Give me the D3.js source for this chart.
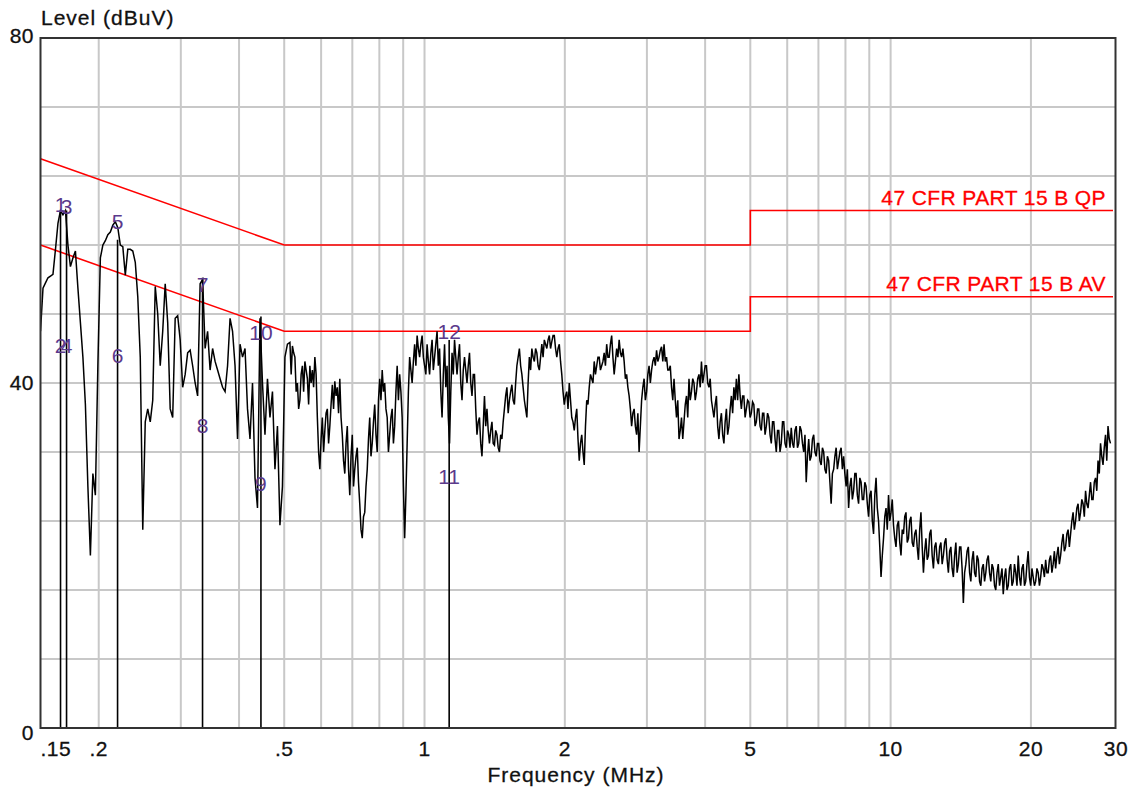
<!DOCTYPE html>
<html><head><meta charset="utf-8">
<script src="https://cdn.jsdelivr.net/npm/d3@7/dist/d3.min.js"></script>
<style>
body{margin:0;background:#fff}
svg{display:block}
text{font-family:"Liberation Sans",Arial,sans-serif}
</style>
</head><body>
<svg id="chart" width="1135" height="790"></svg>
<script>
// ---- Data ----
// Measured level (dBuV) of a log-spaced frequency sweep, 0.15 MHz .. 30 MHz, 430 steps
const SWEEP_START = 0.15, SWEEP_STOP = 30, SWEEP_STEPS = 430;
const levels = [
46,51,51.6,52.2,52.4,52.6,55.5,58.5,60.0,59.5,
60.0,56.0,53.5,54.5,55.3,51.0,47,43,37.5,28,
20,29.5,27,42,54.5,56.0,56.5,57.2,57.5,58.3,
58.7,58.0,56.0,55.8,52.5,55.5,55.5,55.3,54.0,50,
43,23,35.5,37,35.5,38,51.2,48,42,46,
51.5,47,37,36,47.5,47.8,45,39.5,41,43.5,
43.8,42,40,38.5,51.5,52,44,46,41.5,44,
42.5,41.5,40.5,39.5,39.0,42,47.5,46,42,33.5,
44.5,43,44,37,33.5,40,29,25.5,47.5,40,
34,40.5,36,39,30,35,23.5,28,43,44.5,
44.7,44.3,43,40,38,42,42.5,40.5,42,41.5,
43,36,30,36,34.5,37,35,39.8,40.2,39.5,
40.5,34,29.5,35,27,34,30,32.5,26,22,
25,30,36,33,37.5,32,40.5,41.5,40,36,
34,37,35,42,41,36,22,33,43,40,
44.5,45.5,43,45.5,42,44.5,41,45,43,46,
44,36,44.5,42,33,43.5,45,41,44.5,38,
43,40,43.5,38.5,41,34,36,31.5,38.5,37,
33,35.5,32.8,34,32,33.5,37,39.5,38,39.8,
37.5,42,44,41,38,36,43,44,42.5,43.5,
41.5,44.5,45,44,45.5,44.8,45.5,43,44.5,41,
37.5,39,40,36,34.5,37,31,34,30.5,38,
39.5,40.5,42.5,42,43,42,43.5,44.5,43,45.5,
41,44,45,43,42.5,41,38.5,35,37,34,
32,38,40.5,39,42,41.5,43,43.8,43,44.2,
44.5,43,41.5,39.5,40.5,36,33.5,36,35.5,38.5,
40.5,39,40,39,41,42.5,41,42,39.5,38,
36,38.5,33.5,36.5,33,37,35,38.5,39.5,40.5,
41,37,38.5,37,37.8,36.5,37.5,35.5,37,34.5,
36.5,35,36,33,35.5,32,34.5,33,35.5,32.5,
34,34.8,32.5,35,33,34.5,32,28.5,33.5,31.5,
34,31.5,33,30.5,32,29.5,31,26,30,32.5,
31,32.5,31.5,28,25.5,29,27.5,29.5,26,28.5,
26.5,28,24.5,27.5,22.5,29,24,17.5,22,25.5,
27,25,23.5,21,24,20,22.5,25,22,24.5,
21,23,19.5,25,18,22,20,23,18.5,21.5,
19,21.5,20,22,18,21,17.5,21.5,19,21,
14.5,19,21,17,20.5,17.5,19.5,16.5,19,18,
20,17,18.5,16,19,17.5,15.5,18.5,16.5,19,
17,18,20,16.5,19,17,20.5,16.5,17.5,17,
18,17.5,18.5,19.5,18,20,19,18.5,21,20,
22.5,21,23,22.5,25,24,26,25,26,27.5,
25.5,28.5,26.5,29,31,33,30.5,34,35,33
];
// Intermediate samples (half a step after each step) from step 100 to step 428
const MID_FIRST = 100;
const midLevels = [
41,43.5,39,37,41,39,41.5,37.5,40,39.5,
41,32,33.5,32,36.5,33,37.5,37,38.5,36.5,
36,31,33,30,31.5,28,31.5,28.5,23,24.5,
28,33.5,31.5,35.5,34,38,38,39,37,32,
36,33,39,38,39,28,27,39,41.5,42.5,
42,44,44.5,43,41,42.5,43.5,41.5,44.5,42,
39,41,39.5,36,39,41,43,43,40,41.5,
41.5,42,40,41,37,35.5,33,35,35,34.5,
34.5,33,34.5,32.5,34,35.5,38.5,36.5,39,38,
40,43,42,39.5,37,40,41.5,43,44,42,
43,43,44.5,45,44,45.5,44,44,42.5,39,
38.5,37,38,35.5,36,33.5,33,32,35,37.5,
41,40,41,43,41.5,42.5,42,43,44.5,43,
42.5,43,43.5,44,40.5,39.5,37,36.5,35,36.5,
35,39.5,38,41,40,42.5,42,42.5,43.8,42.5,
42.5,41.5,42,38,38,38,34.5,33.5,37.5,36,
38,40.5,38,40.5,39.5,40,42,40,40.5,37,
37.5,35,35.5,34,35.5,34,37,36.5,38,38,
38.5,38.5,36,38,36,37.8,35,37,35,36.5,
34,36.5,34,35.5,33.5,34.5,32,35.5,33,34.5,
32.5,33,34.5,32.5,35,33,34,31.5,31,33.5,
32,33,31,32.5,30,31.5,28.5,29.5,31.5,30,
32,30,29.5,30,28,26.5,29.5,27,29,26.5,
28.5,26,27,24,27,25.5,21,20,24.5,23,
24,26.5,22,23.5,21.5,23,24.5,21.5,24,21.5,
22.5,21,23,21,20.5,19.5,22.5,20,21,19.5,
21,19,21.5,19.5,20.5,18.5,20,18,21,18.5,
18,20.5,18,19.5,18,20,17,18.5,17,19.5,
18,19,16.5,18,16.5,18.5,17.5,16,18.5,16.5,
19,16.5,17.5,18.5,16.5,19,17.5,18.5,16.5,18.5,
16.5,19,17.5,18,19.5,18,20.5,20,19,21.5,
20.5,22.5,21,24,23,25.5,24,26.5,24.5,26,
27,26.5,28.5,27.5,29.5,31.5,32.5,31,33.5
];

// Limit lines
const qpFreq  = [0.15, 0.5, 5, 5, 30];
const qpLevel = [66, 56, 56, 60, 60];
const avFreq  = [0.15, 0.5, 5, 5, 30];
const avLevel = [56, 46, 46, 50, 50];
const limitNames = ["47 CFR PART 15 B QP", "47 CFR PART 15 B AV"];

// Markers
const markerLabel = ["1","2","3","4","5","6","7","8","9","10","11","12"];
const markerFreq  = [0.1656,0.1656,0.1706,0.1706,0.2195,0.2195,0.334,0.334,0.4457,0.4457,1.1295,1.1295];
const markerLevel = [60.7,44.4,60.5,44.3,58.7,43.2,51.4,35.1,28.4,45.8,29.2,46.0];
const markerLineFreq = [0.1656,0.1706,0.2195,0.334,0.4457,1.1295];
const markerLineTop  = [60.0,60.0,56.6,52.2,47.7,45.0];

// Axes
const xTickValues = [0.15,0.2,0.5,1,2,5,10,20,30];
const xTickLabels = [".15",".2",".5","1","2","5","10","20","30"];
const xGridValues = [0.2,0.3,0.4,0.5,0.6,0.7,0.8,0.9,1,2,3,4,5,6,7,8,9,10,20];
const yGridValues = [8,16,24,32,40,48,56,64,72];
const yTickValues = [0,40,80];

// ---- Drawing ----
const svg = d3.select("#chart");
const L = 40.5, R = 1113, T = 38, B = 728;
const x = d3.scaleLog().domain([0.15, 30]).range([L, R]);
const y = d3.scaleLinear().domain([0, 80]).range([B, T]);
const font = 21;
const txt = "#111";

svg.append("rect").attr("width",1135).attr("height",790).attr("fill","#fff");

// grid
const g = svg.append("g");
g.selectAll("line.vx").data(xGridValues).join("line")
  .attr("class","vx")
  .attr("x1",d=>x(d)).attr("x2",d=>x(d)).attr("y1",T).attr("y2",B)
  .attr("stroke","#c8c8c8").attr("stroke-width",2);
g.selectAll("line.hy").data(yGridValues).join("line")
  .attr("class","hy")
  .attr("x1",L).attr("x2",R+2.5).attr("y1",d=>y(d)).attr("y2",d=>y(d))
  .attr("stroke","#c8c8c8").attr("stroke-width",2);

// clip
svg.append("clipPath").attr("id","clip").append("rect")
  .attr("x",L).attr("y",T).attr("width",R+2.5-L).attr("height",B-T);

// limit lines
const limLine = d3.line().x(d=>x(d[0])).y(d=>y(d[1]));
[[qpFreq,qpLevel],[avFreq,avLevel]].forEach(([f,l],k)=>{
  svg.append("path").datum(f.map((v,i)=>[v,l[i]]))
    .attr("d",limLine).attr("fill","none").attr("stroke","#ff0000").attr("stroke-width",1.6);
  svg.append("text").attr("x",1106).attr("y",y(l[l.length-1])-6)
    .attr("text-anchor","end").attr("fill","#ff0000")
    .attr("stroke","#ff0000").attr("stroke-width",0.3)
    .attr("font-size",font).attr("letter-spacing",0.4).text(limitNames[k]);
});

// trace
const stepFreq = s => SWEEP_START*Math.pow(SWEEP_STOP/SWEEP_START, s/SWEEP_STEPS);
const sweep = [];
levels.forEach((v,i)=>{
  sweep.push([stepFreq(i), v]);
  const m = i - MID_FIRST;
  if (m >= 0 && m < midLevels.length) sweep.push([stepFreq(i+0.5), midLevels[m]]);
});
svg.append("path").datum(sweep).attr("clip-path","url(#clip)")
  .attr("d",d3.line().x(d=>x(d[0])).y(d=>y(d[1])))
  .attr("fill","none").attr("stroke","#000").attr("stroke-width",1.5)
  .attr("stroke-linejoin","miter");

// marker lines
svg.selectAll("line.mk").data(markerLineFreq).join("line")
  .attr("class","mk")
  .attr("x1",d=>x(d)).attr("x2",d=>x(d))
  .attr("y1",y(0)).attr("y2",(d,i)=>y(markerLineTop[i]))
  .attr("stroke","#000").attr("stroke-width",1.6);

// marker labels
svg.selectAll("text.ml").data(markerLabel).join("text")
  .attr("class","ml")
  .attr("x",(d,i)=>x(markerFreq[i])).attr("y",(d,i)=>y(markerLevel[i])+7.5)
  .attr("text-anchor","middle").attr("fill","#5b3a8c")
  .attr("font-size",font).text(d=>d);

// border
svg.append("rect").attr("x",L).attr("y",T).attr("width",1115.5-L).attr("height",B-T)
  .attr("fill","none").attr("stroke","#333").attr("stroke-width",2);

// x tick labels
svg.selectAll("text.xt").data(xTickValues).join("text")
  .attr("class","xt")
  .attr("x",(d,i)=> i===0 ? L : x(d)+ (i===xTickValues.length-1 ? 3 : 0))
  .attr("y",756)
  .attr("text-anchor",(d,i)=> i===0 ? "start" : "middle")
  .attr("fill",txt).attr("stroke",txt).attr("stroke-width",0.3)
  .attr("font-size",font).attr("letter-spacing",0.5)
  .text((d,i)=>xTickLabels[i]);

// y tick labels
svg.selectAll("text.yt").data(yTickValues).join("text")
  .attr("class","yt")
  .attr("x",34).attr("y",d=> y(d) + (d===0 ? 12 : (d===80 ? 5 : 7)))
  .attr("text-anchor","end").attr("fill",txt).attr("stroke",txt).attr("stroke-width",0.3)
  .attr("font-size",font).attr("letter-spacing",0.5)
  .text(d=>d);

// axis titles
svg.append("text").attr("x",41).attr("y",25).attr("fill",txt).attr("stroke",txt).attr("stroke-width",0.3)
  .attr("font-size",font).attr("letter-spacing",1).text("Level (dBuV)");
svg.append("text").attr("x",576).attr("y",782).attr("text-anchor","middle")
  .attr("fill",txt).attr("stroke",txt).attr("stroke-width",0.3)
  .attr("font-size",font).attr("letter-spacing",1).text("Frequency (MHz)");
</script>
</body></html>
